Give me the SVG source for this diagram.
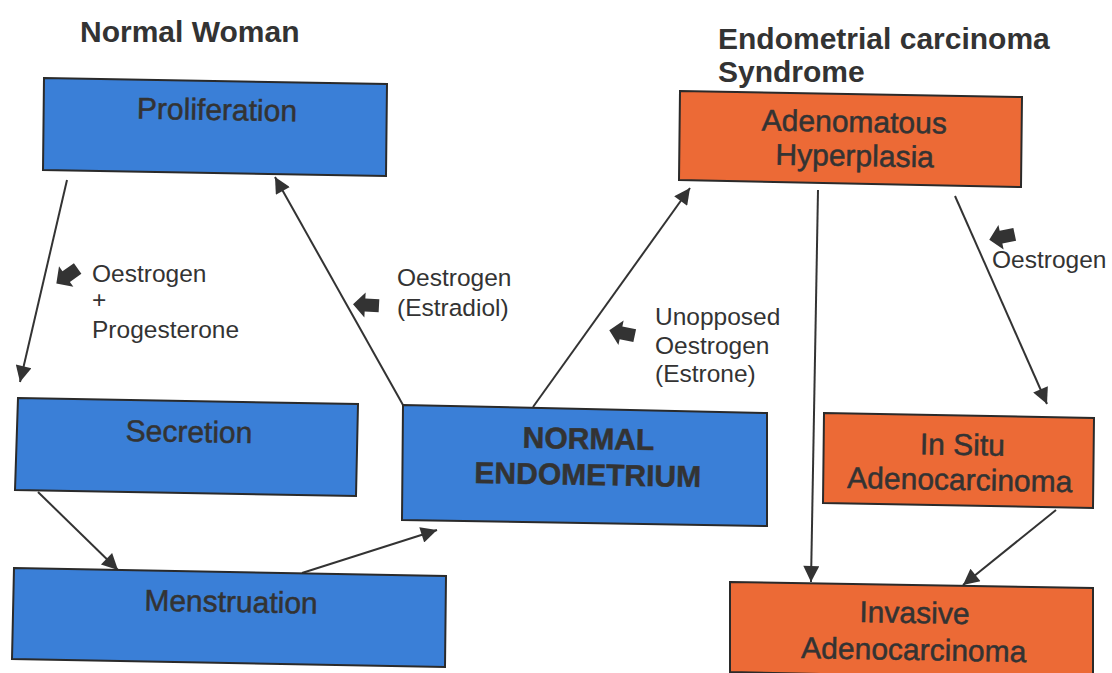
<svg xmlns="http://www.w3.org/2000/svg" width="1112" height="673" viewBox="0 0 1112 673">
  <style>
    .blue { fill: #3a7fd7; stroke: #2a2a2a; stroke-width: 2; }
    .orange { fill: #ec6a36; stroke: #2a2a2a; stroke-width: 2; }
    .lbl { font-family: "Liberation Sans", Arial, sans-serif; font-size: 30px; fill: #333; stroke: #333; stroke-width: 0.5; text-anchor: middle; }
    .bold { font-weight: bold; }
    .head { font-family: "Liberation Sans", Arial, sans-serif; font-size: 30px; font-weight: bold; fill: #333; }
    .note { font-family: "Liberation Sans", Arial, sans-serif; font-size: 24.5px; fill: #333; }
    .link { stroke: #333; stroke-width: 2; fill: none; marker-end: url(#tip); }
    .blk { fill: #333; }
  </style>
  <defs>
    <marker id="tip" viewBox="0 0 10 10" refX="10" refY="5" markerWidth="21" markerHeight="16" markerUnits="userSpaceOnUse" orient="auto">
      <path d="M0,0 L10,5 L0,10 z" fill="#333"/>
    </marker>
    <!-- short fat block arrow, pointing left, centred on the origin -->
    <path id="blockArrow" d="M-13,0 L-1,-12.5 L-1,-6.5 L13,-6.5 L13,6.5 L-1,6.5 L-1,12.5 z"/>
  </defs>

  <rect width="1112" height="673" fill="#ffffff"/>

  <!-- section headings -->
  <text class="head" x="80" y="42">Normal Woman</text>
  <text class="head" x="718" y="49">Endometrial carcinoma</text>
  <text class="head" x="718" y="82">Syndrome</text>

  <!-- connectors -->
  <g id="connectors">
    <path class="link" d="M67,180 L20,382"/>
    <path class="link" d="M403,405 L275,177"/>
    <path class="link" d="M38,492 L118,570"/>
    <path class="link" d="M302,573 L437,530"/>
    <path class="link" d="M533,407 L690,188"/>
    <path class="link" d="M818,190 L811,582"/>
    <path class="link" d="M955,196 L1047,404"/>
    <path class="link" d="M1056,510 L963,585"/>
  </g>

  <!-- hormone annotations with block arrows -->
  <g id="annotations">
    <use href="#blockArrow" class="blk" transform="translate(67,276) rotate(-35)"/>
    <text class="note" x="92" y="282">Oestrogen</text>
    <text class="note" x="92" y="308">+</text>
    <text class="note" x="92" y="338">Progesterone</text>

    <use href="#blockArrow" class="blk" transform="translate(366,305) rotate(3)"/>
    <text class="note" x="397" y="286">Oestrogen</text>
    <text class="note" x="397" y="316">(Estradiol)</text>

    <use href="#blockArrow" class="blk" transform="translate(622,333) rotate(12)"/>
    <text class="note" x="655" y="325">Unopposed</text>
    <text class="note" x="655" y="354">Oestrogen</text>
    <text class="note" x="655" y="382">(Estrone)</text>

    <use href="#blockArrow" class="blk" transform="translate(1002,237) rotate(-12)"/>
    <text class="note" x="992" y="268">Oestrogen</text>
  </g>

  <!-- normal cycle nodes -->
  <g id="proliferation">
    <polygon class="blue" points="44,78 387,84 386,176 43,170"/>
    <text class="lbl" x="217" y="120" transform="rotate(1 217 112)">Proliferation</text>
  </g>
  <g id="secretion">
    <polygon class="blue" points="18,398 358,404 356,496 15,490"/>
    <text class="lbl" x="189" y="442" transform="rotate(1 189 434)">Secretion</text>
  </g>
  <g id="menstruation">
    <polygon class="blue" points="14,568 446,576 445,667 12,659"/>
    <text class="lbl" x="231" y="612" transform="rotate(1 231 604)">Menstruation</text>
  </g>
  <g id="normal-endometrium">
    <polygon class="blue" points="403,405 767,413 767,526 402,520"/>
    <g transform="rotate(1 588 466)">
      <text class="lbl bold" x="588" y="449">NORMAL</text>
      <text class="lbl bold" x="588" y="485">ENDOMETRIUM</text>
    </g>
  </g>

  <!-- carcinoma pathway nodes -->
  <g id="adenomatous-hyperplasia">
    <polygon class="orange" points="680,91 1022,97 1021,187 679,180"/>
    <g transform="rotate(1 854 140)">
      <text class="lbl" x="854" y="132">Adenomatous</text>
      <text class="lbl" x="855" y="166">Hyperplasia</text>
    </g>
  </g>
  <g id="in-situ-adenocarcinoma">
    <polygon class="orange" points="824,413 1094,418 1093,508 823,503"/>
    <g transform="rotate(1 961 470)">
      <text class="lbl" x="962" y="455">In Situ</text>
      <text class="lbl" x="960" y="490">Adenocarcinoma</text>
    </g>
  </g>
  <g id="invasive-adenocarcinoma">
    <polygon class="orange" points="730,582 1093,588 1093,680 730,672"/>
    <g transform="rotate(1 914 640)">
      <text class="lbl" x="914" y="623">Invasive</text>
      <text class="lbl" x="914" y="660">Adenocarcinoma</text>
    </g>
  </g>
</svg>
